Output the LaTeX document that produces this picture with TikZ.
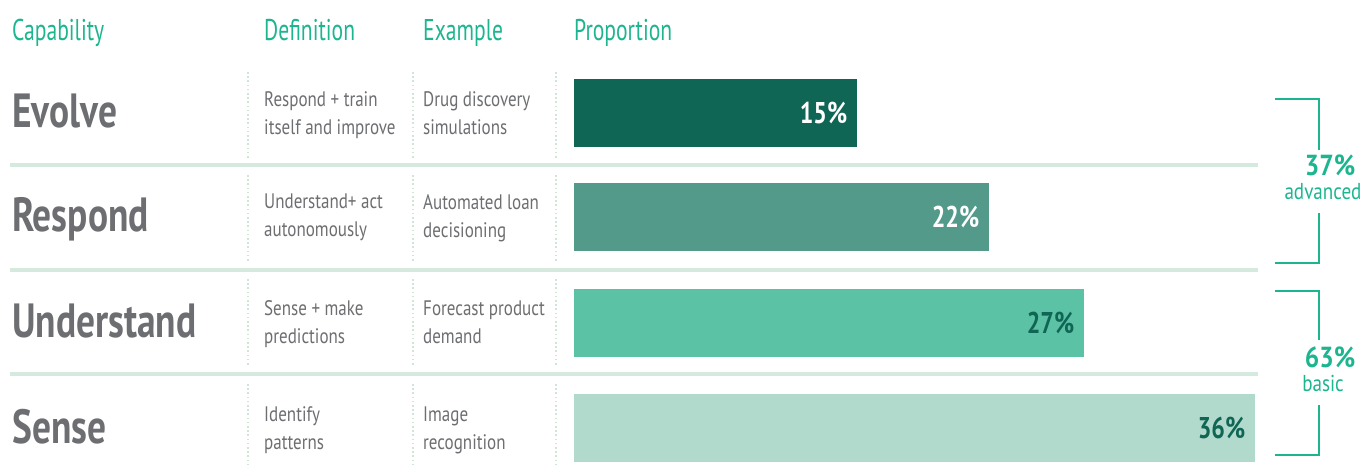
\documentclass[tikz,border=0pt]{standalone}
\usepackage{fontspec}
\setmainfont{PT Sans}[FakeStretch=0.78]
\newfontfamily\hdrfont{PT Sans}[FakeStretch=0.72]
\newfontfamily\descfont{PT Sans}[FakeStretch=0.81]
\newfontfamily\pctfont{PT Sans}[FakeStretch=0.8]
\newfontfamily\brkpctfont{PT Sans}[FakeStretch=0.88]
\newfontfamily\brktxtfont{PT Sans}[FakeStretch=0.83]
\definecolor{teal1}{HTML}{1DB58F}
\definecolor{gtext}{HTML}{6D6E71}
\definecolor{sepc}{HTML}{D6E9DE}
\definecolor{dotc}{HTML}{CFE5D8}
\definecolor{bar1}{HTML}{0F6655}
\definecolor{bar2}{HTML}{539A8A}
\definecolor{bar3}{HTML}{5CC2A5}
\definecolor{bar4}{HTML}{B1DACC}
\tikzset{
  hdr/.style={anchor=base west, inner sep=0, text=teal1, font=\hdrfont\fontsize{30}{33}\selectfont},
  capl/.style={anchor=base west, inner sep=0, text=gtext, font=\fontsize{48}{52}\selectfont\bfseries},
  desc/.style={anchor=base west, inner sep=0, text=gtext, font=\descfont\fontsize{21}{25}\selectfont},
  barbox/.style={fill=#1, draw=none, inner sep=0, minimum height=68, anchor=north west},
  pct/.style={anchor=east, inner sep=0, text=#1, font=\pctfont\fontsize{30}{33}\selectfont\bfseries},
  sepline/.style={line width=4, draw=sepc},
  dotline/.style={line width=1.6, draw=dotc, dash pattern=on 1.6 off 2.6},
  brk/.style={draw=teal1, line width=1.5},
  brkpct/.style={text=teal1, inner sep=0, font=\brkpctfont\fontsize{29}{32}\selectfont\bfseries},
  brktxt/.style={text=teal1, inner sep=0, font=\brktxtfont\fontsize{23}{26}\selectfont},
}
\begin{document}
\begin{tikzpicture}[x=1pt, y=-1pt]
\useasboundingbox (0,0) rectangle (1364,472);
% headers
\node[hdr] (h1) at (12,40) {Capability};
\node[hdr] (h2) at (264,40) {Definition};
\node[hdr] (h3) at (423,40) {Example};
\node[hdr] (h4) at (574,40) {Proportion};
% separators
\draw[sepline] (10,165) -- (1258,165);
\draw[sepline] (10,270) -- (1258,270);
\draw[sepline] (10,374) -- (1258,374);
% dotted lines
\foreach \xx in {248,413,556}{
  \draw[dotline] (\xx,72) -- (\xx,158);
  \draw[dotline] (\xx,175) -- (\xx,263);
  \draw[dotline] (\xx,279) -- (\xx,366);
  \draw[dotline] (\xx,384) -- (\xx,468);
}
% capability labels
\node[capl] (c1) at (12,127) {Evolve};
\node[capl] (c2) at (12,231) {Respond};
\node[capl] (c3) at (12,337) {Understand};
\node[capl] (c4) at (12,443) {Sense};
% definitions
\node[desc] (d1a) at (264,106) {Respond + train};
\node[desc] (d1b) at (264,134) {itself and improve};
\node[desc] (d2a) at (264,208) {Understand+ act};
\node[desc] (d2b) at (264,236) {autonomously};
\node[desc] (d3a) at (264,315) {Sense + make};
\node[desc] (d3b) at (264,343) {predictions};
\node[desc] (d4a) at (264,421) {Identify};
\node[desc] (d4b) at (264,449) {patterns};
% examples
\node[desc] (e1a) at (423,106) {Drug discovery};
\node[desc] (e1b) at (423,134) {simulations};
\node[desc] (e2a) at (423,209) {Automated loan};
\node[desc] (e2b) at (423,237) {decisioning};
\node[desc] (e3a) at (423,315) {Forecast product};
\node[desc] (e3b) at (423,343) {demand};
\node[desc] (e4a) at (423,421) {Image};
\node[desc] (e4b) at (423,449) {recognition};
% bars
\node[barbox=bar1, minimum width=283] (b1) at (574,79) {};
\node[barbox=bar2, minimum width=415] (b2) at (574,183) {};
\node[barbox=bar3, minimum width=510] (b3) at (574,289) {};
\node[barbox=bar4, minimum width=681] (b4) at (574,394) {};
\node[pct=white] (p1) at ([xshift=-10]b1.east) {15\%};
\node[pct=white] (p2) at ([xshift=-10]b2.east) {22\%};
\node[pct=bar1] (p3) at ([xshift=-10]b3.east) {27\%};
\node[pct=bar1] (p4) at ([xshift=-10]b4.east) {36\%};
% brackets
\node[brkpct] (g1) at (1330,165) {37\%};
\node[brktxt] (g1t) at (1323,192) {advanced};
\node[brkpct] (g2) at (1330,357) {63\%};
\node[brktxt] (g2t) at (1323,383) {basic};
\coordinate (a1) at (1275,99);
\coordinate (a2) at (1319,150);
\coordinate (a3) at (1275,263);
\coordinate (a4) at (1319,213);
\coordinate (q1) at (1275,291);
\coordinate (q2) at (1319,340);
\coordinate (q3) at (1275,455);
\coordinate (q4) at (1319,405);
\draw[brk] (a1) -| (a2);
\draw[brk] (a3) -| (a4);
\draw[brk] (q1) -| (q2);
\draw[brk] (q3) -| (q4);
\end{tikzpicture}
\end{document}
